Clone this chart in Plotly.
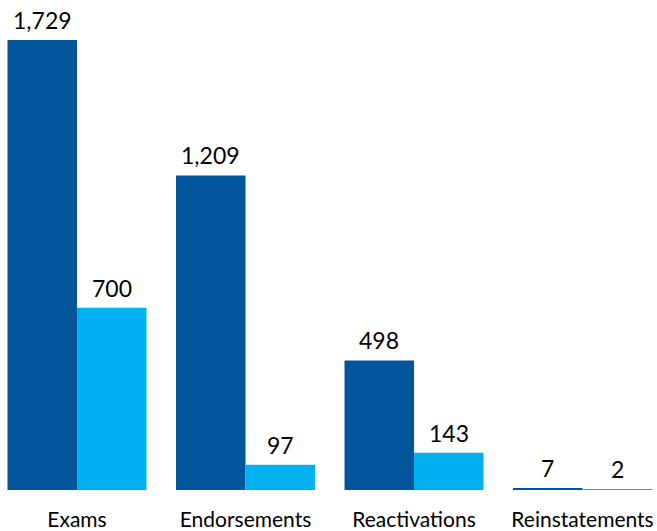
import plotly.graph_objects as go

categories = ["Exams", "Endorsements", "Reactivations", "Reinstatements"]
series_a = [1729, 1209, 498, 7]
series_b = [700, 97, 143, 2]

dark = "#00559B"
light = "#00B0F0"
font = "Lato"

fig = go.Figure()
for vals, col, dx in [(series_a, dark, -34.75), (series_b, light, 34.75)]:
    fig.add_trace(go.Bar(
        x=categories, y=vals, marker=dict(color=col, line=dict(width=0)),
        cliponaxis=False, showlegend=False, hoverinfo="skip",
    ))
    for c, v in zip(categories, vals):
        fig.add_annotation(x=c, y=v, text=f"{v:,}", showarrow=False,
                           xshift=dx, yshift=4, yanchor="bottom",
                           font=dict(family=font, size=23, color="#000000"))

fig.update_layout(
    width=657, height=531,
    margin=dict(l=0, r=0, t=0, b=41, autoexpand=False),
    barmode="group", bargap=0.175, bargroupgap=0,
    plot_bgcolor="white", paper_bgcolor="white",
    xaxis=dict(range=[-0.457, 3.442], showgrid=False, showline=False, zeroline=False,
               ticks="", automargin=False,
               tickfont=dict(family=font, size=21, color="#000000"),
               ticklabelstandoff=15),
    yaxis=dict(range=[0, 1883], visible=False, automargin=False),
)
fig.write_html("out.html", config={"displayModeBar": False},
               post_script="document.body.style.margin='0';")
